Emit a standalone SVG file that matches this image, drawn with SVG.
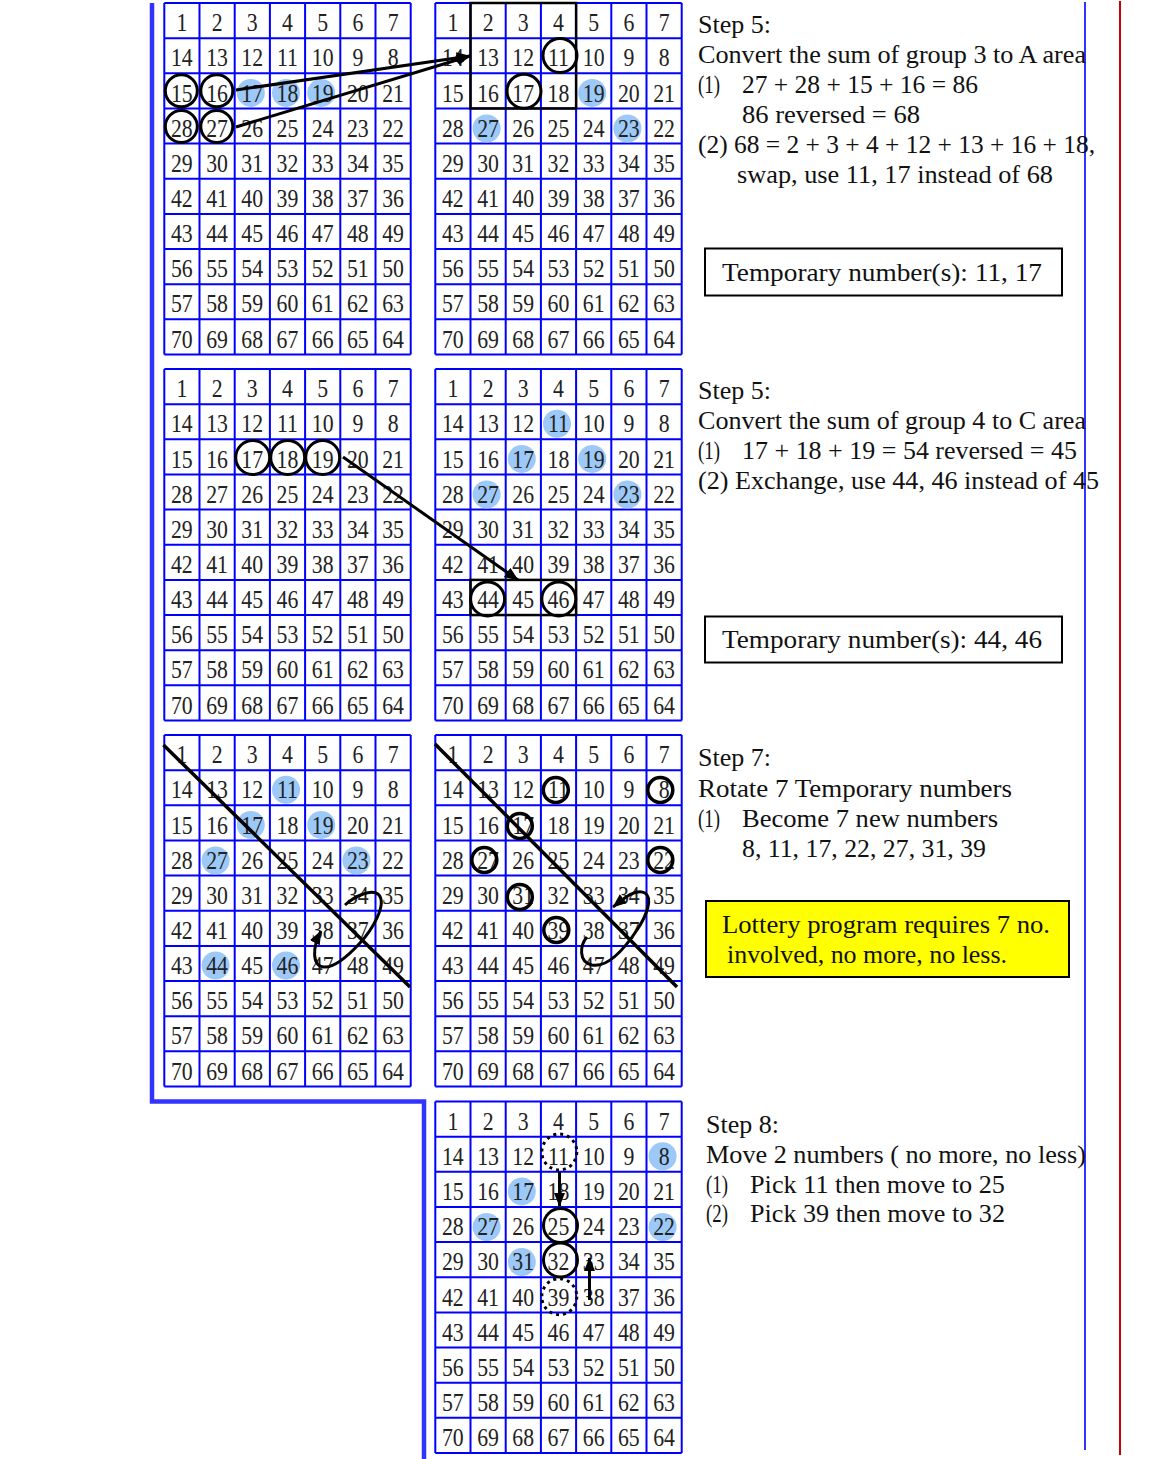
<svg xmlns="http://www.w3.org/2000/svg" xmlns:xlink="http://www.w3.org/1999/xlink" width="1154" height="1459" viewBox="0 0 1154 1459">
<style>
.n{font-family:"Liberation Serif","Times New Roman",serif;font-size:25px;fill:#222;text-anchor:middle}
.t{font-family:"Liberation Serif","Times New Roman",serif;font-size:25.5px;fill:#111}
.hl{fill:#9cc9f8}
.bc{fill:none;stroke:#000;stroke-width:3}
.sc{fill:none;stroke:#000;stroke-width:3.5}
.dc{fill:none;stroke:#000;stroke-width:3;stroke-dasharray:3 4}
.bx{fill:none;stroke:#000;stroke-width:2.5}
.ar{fill:none;stroke:#000;stroke-width:3;marker-end:url(#ah)}
.dg{stroke:#000;stroke-width:3.5}
.box{fill:#fff;stroke:#000;stroke-width:2}
</style>
<defs>
<path id="gl" fill="none" stroke="#0000ff" stroke-width="2" d="M0 0V351.5M35.2 0V351.5M70.4 0V351.5M105.6 0V351.5M140.8 0V351.5M176 0V351.5M211.2 0V351.5M246.4 0V351.5M0 0H246.4M0 35.15H246.4M0 70.3H246.4M0 105.45H246.4M0 140.6H246.4M0 175.75H246.4M0 210.9H246.4M0 246.05H246.4M0 281.2H246.4M0 316.35H246.4M0 351.5H246.4"/>
<marker id="ah" viewBox="0 0 10 10" refX="9.5" refY="5" markerWidth="14" markerHeight="14" markerUnits="userSpaceOnUse" orient="auto"><path d="M0,1 L10,5 L0,9 z" fill="#000"/></marker>
</defs>
<rect width="1154" height="1459" fill="#fff"/>
<polyline points="152,3 152,1101.5 424,1101.5 424,1459" fill="none" stroke="#3333ff" stroke-width="4.5"/>
<line x1="1085" y1="2" x2="1085" y2="1450" stroke="#3333ff" stroke-width="2"/>
<line x1="1120" y1="1" x2="1120" y2="1455" stroke="#cc0000" stroke-width="2"/>

<g id="grid-1-left" transform="translate(164.3 3)">
<use href="#gl"/>
<circle class="hl" cx="86.5" cy="89.9" r="14"/><circle class="hl" cx="121.7" cy="89.9" r="14"/><circle class="hl" cx="156.9" cy="89.9" r="14"/>
<g class="n" transform="scale(0.87 1)">
<text y="28.3"><tspan x="20.2">1</tspan><tspan x="60.7">2</tspan><tspan x="101.1">3</tspan><tspan x="141.6">4</tspan><tspan x="182.1">5</tspan><tspan x="222.5">6</tspan><tspan x="263">7</tspan></text>
<text y="63.45"><tspan x="20.2">14</tspan><tspan x="60.7">13</tspan><tspan x="101.1">12</tspan><tspan x="141.6">11</tspan><tspan x="182.1">10</tspan><tspan x="222.5">9</tspan><tspan x="263">8</tspan></text>
<text y="98.6"><tspan x="20.2">15</tspan><tspan x="60.7">16</tspan><tspan x="101.1">17</tspan><tspan x="141.6">18</tspan><tspan x="182.1">19</tspan><tspan x="222.5">20</tspan><tspan x="263">21</tspan></text>
<text y="133.75"><tspan x="20.2">28</tspan><tspan x="60.7">27</tspan><tspan x="101.1">26</tspan><tspan x="141.6">25</tspan><tspan x="182.1">24</tspan><tspan x="222.5">23</tspan><tspan x="263">22</tspan></text>
<text y="168.9"><tspan x="20.2">29</tspan><tspan x="60.7">30</tspan><tspan x="101.1">31</tspan><tspan x="141.6">32</tspan><tspan x="182.1">33</tspan><tspan x="222.5">34</tspan><tspan x="263">35</tspan></text>
<text y="204.05"><tspan x="20.2">42</tspan><tspan x="60.7">41</tspan><tspan x="101.1">40</tspan><tspan x="141.6">39</tspan><tspan x="182.1">38</tspan><tspan x="222.5">37</tspan><tspan x="263">36</tspan></text>
<text y="239.2"><tspan x="20.2">43</tspan><tspan x="60.7">44</tspan><tspan x="101.1">45</tspan><tspan x="141.6">46</tspan><tspan x="182.1">47</tspan><tspan x="222.5">48</tspan><tspan x="263">49</tspan></text>
<text y="274.35"><tspan x="20.2">56</tspan><tspan x="60.7">55</tspan><tspan x="101.1">54</tspan><tspan x="141.6">53</tspan><tspan x="182.1">52</tspan><tspan x="222.5">51</tspan><tspan x="263">50</tspan></text>
<text y="309.5"><tspan x="20.2">57</tspan><tspan x="60.7">58</tspan><tspan x="101.1">59</tspan><tspan x="141.6">60</tspan><tspan x="182.1">61</tspan><tspan x="222.5">62</tspan><tspan x="263">63</tspan></text>
<text y="344.65"><tspan x="20.2">70</tspan><tspan x="60.7">69</tspan><tspan x="101.1">68</tspan><tspan x="141.6">67</tspan><tspan x="182.1">66</tspan><tspan x="222.5">65</tspan><tspan x="263">64</tspan></text>
</g>
<circle class="bc" cx="17" cy="87.8" r="16"/><circle class="bc" cx="52.5" cy="87.8" r="16"/><circle class="bc" cx="17" cy="123.5" r="16"/><circle class="bc" cx="52.5" cy="123.5" r="16"/>
</g>

<g id="grid-1-right" transform="translate(435.3 3)">
<use href="#gl"/>
<circle class="hl" cx="156.9" cy="89.9" r="14"/><circle class="hl" cx="51.3" cy="125.5" r="14"/><circle class="hl" cx="192.1" cy="125.5" r="14"/>
<g class="n" transform="scale(0.87 1)">
<text y="28.3"><tspan x="20.2">1</tspan><tspan x="60.7">2</tspan><tspan x="101.1">3</tspan><tspan x="141.6">4</tspan><tspan x="182.1">5</tspan><tspan x="222.5">6</tspan><tspan x="263">7</tspan></text>
<text y="63.45"><tspan x="20.2">14</tspan><tspan x="60.7">13</tspan><tspan x="101.1">12</tspan><tspan x="141.6">11</tspan><tspan x="182.1">10</tspan><tspan x="222.5">9</tspan><tspan x="263">8</tspan></text>
<text y="98.6"><tspan x="20.2">15</tspan><tspan x="60.7">16</tspan><tspan x="101.1">17</tspan><tspan x="141.6">18</tspan><tspan x="182.1">19</tspan><tspan x="222.5">20</tspan><tspan x="263">21</tspan></text>
<text y="133.75"><tspan x="20.2">28</tspan><tspan x="60.7">27</tspan><tspan x="101.1">26</tspan><tspan x="141.6">25</tspan><tspan x="182.1">24</tspan><tspan x="222.5">23</tspan><tspan x="263">22</tspan></text>
<text y="168.9"><tspan x="20.2">29</tspan><tspan x="60.7">30</tspan><tspan x="101.1">31</tspan><tspan x="141.6">32</tspan><tspan x="182.1">33</tspan><tspan x="222.5">34</tspan><tspan x="263">35</tspan></text>
<text y="204.05"><tspan x="20.2">42</tspan><tspan x="60.7">41</tspan><tspan x="101.1">40</tspan><tspan x="141.6">39</tspan><tspan x="182.1">38</tspan><tspan x="222.5">37</tspan><tspan x="263">36</tspan></text>
<text y="239.2"><tspan x="20.2">43</tspan><tspan x="60.7">44</tspan><tspan x="101.1">45</tspan><tspan x="141.6">46</tspan><tspan x="182.1">47</tspan><tspan x="222.5">48</tspan><tspan x="263">49</tspan></text>
<text y="274.35"><tspan x="20.2">56</tspan><tspan x="60.7">55</tspan><tspan x="101.1">54</tspan><tspan x="141.6">53</tspan><tspan x="182.1">52</tspan><tspan x="222.5">51</tspan><tspan x="263">50</tspan></text>
<text y="309.5"><tspan x="20.2">57</tspan><tspan x="60.7">58</tspan><tspan x="101.1">59</tspan><tspan x="141.6">60</tspan><tspan x="182.1">61</tspan><tspan x="222.5">62</tspan><tspan x="263">63</tspan></text>
<text y="344.65"><tspan x="20.2">70</tspan><tspan x="60.7">69</tspan><tspan x="101.1">68</tspan><tspan x="141.6">67</tspan><tspan x="182.1">66</tspan><tspan x="222.5">65</tspan><tspan x="263">64</tspan></text>
</g>
<rect class="bx" x="35.2" y="0" width="105.6" height="105.45"/>
<circle class="bc" cx="124.7" cy="52.5" r="17"/><circle class="bc" cx="88.7" cy="88.2" r="17"/>
</g>

<g id="grid-2-left" transform="translate(164.3 369)">
<use href="#gl"/>
<g class="n" transform="scale(0.87 1)">
<text y="28.3"><tspan x="20.2">1</tspan><tspan x="60.7">2</tspan><tspan x="101.1">3</tspan><tspan x="141.6">4</tspan><tspan x="182.1">5</tspan><tspan x="222.5">6</tspan><tspan x="263">7</tspan></text>
<text y="63.45"><tspan x="20.2">14</tspan><tspan x="60.7">13</tspan><tspan x="101.1">12</tspan><tspan x="141.6">11</tspan><tspan x="182.1">10</tspan><tspan x="222.5">9</tspan><tspan x="263">8</tspan></text>
<text y="98.6"><tspan x="20.2">15</tspan><tspan x="60.7">16</tspan><tspan x="101.1">17</tspan><tspan x="141.6">18</tspan><tspan x="182.1">19</tspan><tspan x="222.5">20</tspan><tspan x="263">21</tspan></text>
<text y="133.75"><tspan x="20.2">28</tspan><tspan x="60.7">27</tspan><tspan x="101.1">26</tspan><tspan x="141.6">25</tspan><tspan x="182.1">24</tspan><tspan x="222.5">23</tspan><tspan x="263">22</tspan></text>
<text y="168.9"><tspan x="20.2">29</tspan><tspan x="60.7">30</tspan><tspan x="101.1">31</tspan><tspan x="141.6">32</tspan><tspan x="182.1">33</tspan><tspan x="222.5">34</tspan><tspan x="263">35</tspan></text>
<text y="204.05"><tspan x="20.2">42</tspan><tspan x="60.7">41</tspan><tspan x="101.1">40</tspan><tspan x="141.6">39</tspan><tspan x="182.1">38</tspan><tspan x="222.5">37</tspan><tspan x="263">36</tspan></text>
<text y="239.2"><tspan x="20.2">43</tspan><tspan x="60.7">44</tspan><tspan x="101.1">45</tspan><tspan x="141.6">46</tspan><tspan x="182.1">47</tspan><tspan x="222.5">48</tspan><tspan x="263">49</tspan></text>
<text y="274.35"><tspan x="20.2">56</tspan><tspan x="60.7">55</tspan><tspan x="101.1">54</tspan><tspan x="141.6">53</tspan><tspan x="182.1">52</tspan><tspan x="222.5">51</tspan><tspan x="263">50</tspan></text>
<text y="309.5"><tspan x="20.2">57</tspan><tspan x="60.7">58</tspan><tspan x="101.1">59</tspan><tspan x="141.6">60</tspan><tspan x="182.1">61</tspan><tspan x="222.5">62</tspan><tspan x="263">63</tspan></text>
<text y="344.65"><tspan x="20.2">70</tspan><tspan x="60.7">69</tspan><tspan x="101.1">68</tspan><tspan x="141.6">67</tspan><tspan x="182.1">66</tspan><tspan x="222.5">65</tspan><tspan x="263">64</tspan></text>
</g>
<circle class="bc" cx="88.4" cy="88.5" r="17"/><circle class="bc" cx="123.4" cy="88.5" r="17"/><circle class="bc" cx="158.4" cy="88.5" r="17"/>
</g>

<g id="grid-2-right" transform="translate(435.3 369)">
<use href="#gl"/>
<circle class="hl" cx="121.7" cy="54.75" r="14"/><circle class="hl" cx="86.5" cy="89.9" r="14"/><circle class="hl" cx="156.9" cy="89.9" r="14"/><circle class="hl" cx="51.3" cy="125.5" r="14"/><circle class="hl" cx="192.1" cy="125.5" r="14"/>
<g class="n" transform="scale(0.87 1)">
<text y="28.3"><tspan x="20.2">1</tspan><tspan x="60.7">2</tspan><tspan x="101.1">3</tspan><tspan x="141.6">4</tspan><tspan x="182.1">5</tspan><tspan x="222.5">6</tspan><tspan x="263">7</tspan></text>
<text y="63.45"><tspan x="20.2">14</tspan><tspan x="60.7">13</tspan><tspan x="101.1">12</tspan><tspan x="141.6">11</tspan><tspan x="182.1">10</tspan><tspan x="222.5">9</tspan><tspan x="263">8</tspan></text>
<text y="98.6"><tspan x="20.2">15</tspan><tspan x="60.7">16</tspan><tspan x="101.1">17</tspan><tspan x="141.6">18</tspan><tspan x="182.1">19</tspan><tspan x="222.5">20</tspan><tspan x="263">21</tspan></text>
<text y="133.75"><tspan x="20.2">28</tspan><tspan x="60.7">27</tspan><tspan x="101.1">26</tspan><tspan x="141.6">25</tspan><tspan x="182.1">24</tspan><tspan x="222.5">23</tspan><tspan x="263">22</tspan></text>
<text y="168.9"><tspan x="20.2">29</tspan><tspan x="60.7">30</tspan><tspan x="101.1">31</tspan><tspan x="141.6">32</tspan><tspan x="182.1">33</tspan><tspan x="222.5">34</tspan><tspan x="263">35</tspan></text>
<text y="204.05"><tspan x="20.2">42</tspan><tspan x="60.7">41</tspan><tspan x="101.1">40</tspan><tspan x="141.6">39</tspan><tspan x="182.1">38</tspan><tspan x="222.5">37</tspan><tspan x="263">36</tspan></text>
<text y="239.2"><tspan x="20.2">43</tspan><tspan x="60.7">44</tspan><tspan x="101.1">45</tspan><tspan x="141.6">46</tspan><tspan x="182.1">47</tspan><tspan x="222.5">48</tspan><tspan x="263">49</tspan></text>
<text y="274.35"><tspan x="20.2">56</tspan><tspan x="60.7">55</tspan><tspan x="101.1">54</tspan><tspan x="141.6">53</tspan><tspan x="182.1">52</tspan><tspan x="222.5">51</tspan><tspan x="263">50</tspan></text>
<text y="309.5"><tspan x="20.2">57</tspan><tspan x="60.7">58</tspan><tspan x="101.1">59</tspan><tspan x="141.6">60</tspan><tspan x="182.1">61</tspan><tspan x="222.5">62</tspan><tspan x="263">63</tspan></text>
<text y="344.65"><tspan x="20.2">70</tspan><tspan x="60.7">69</tspan><tspan x="101.1">68</tspan><tspan x="141.6">67</tspan><tspan x="182.1">66</tspan><tspan x="222.5">65</tspan><tspan x="263">64</tspan></text>
</g>
<rect class="bx" x="35.2" y="210.9" width="105.6" height="35.15"/>
<circle class="bc" cx="52.3" cy="230" r="17"/><circle class="bc" cx="123.5" cy="230" r="17"/>
</g>

<g id="grid-3-left" transform="translate(164.3 735)">
<use href="#gl"/>
<circle class="hl" cx="121.7" cy="54.75" r="14"/><circle class="hl" cx="86.5" cy="89.9" r="14"/><circle class="hl" cx="156.9" cy="89.9" r="14"/><circle class="hl" cx="51.3" cy="125.5" r="14"/><circle class="hl" cx="192.1" cy="125.5" r="14"/><circle class="hl" cx="51.3" cy="230.5" r="14"/><circle class="hl" cx="121.7" cy="230.5" r="14"/>
<g class="n" transform="scale(0.87 1)">
<text y="28.3"><tspan x="20.2">1</tspan><tspan x="60.7">2</tspan><tspan x="101.1">3</tspan><tspan x="141.6">4</tspan><tspan x="182.1">5</tspan><tspan x="222.5">6</tspan><tspan x="263">7</tspan></text>
<text y="63.45"><tspan x="20.2">14</tspan><tspan x="60.7">13</tspan><tspan x="101.1">12</tspan><tspan x="141.6">11</tspan><tspan x="182.1">10</tspan><tspan x="222.5">9</tspan><tspan x="263">8</tspan></text>
<text y="98.6"><tspan x="20.2">15</tspan><tspan x="60.7">16</tspan><tspan x="101.1">17</tspan><tspan x="141.6">18</tspan><tspan x="182.1">19</tspan><tspan x="222.5">20</tspan><tspan x="263">21</tspan></text>
<text y="133.75"><tspan x="20.2">28</tspan><tspan x="60.7">27</tspan><tspan x="101.1">26</tspan><tspan x="141.6">25</tspan><tspan x="182.1">24</tspan><tspan x="222.5">23</tspan><tspan x="263">22</tspan></text>
<text y="168.9"><tspan x="20.2">29</tspan><tspan x="60.7">30</tspan><tspan x="101.1">31</tspan><tspan x="141.6">32</tspan><tspan x="182.1">33</tspan><tspan x="222.5">34</tspan><tspan x="263">35</tspan></text>
<text y="204.05"><tspan x="20.2">42</tspan><tspan x="60.7">41</tspan><tspan x="101.1">40</tspan><tspan x="141.6">39</tspan><tspan x="182.1">38</tspan><tspan x="222.5">37</tspan><tspan x="263">36</tspan></text>
<text y="239.2"><tspan x="20.2">43</tspan><tspan x="60.7">44</tspan><tspan x="101.1">45</tspan><tspan x="141.6">46</tspan><tspan x="182.1">47</tspan><tspan x="222.5">48</tspan><tspan x="263">49</tspan></text>
<text y="274.35"><tspan x="20.2">56</tspan><tspan x="60.7">55</tspan><tspan x="101.1">54</tspan><tspan x="141.6">53</tspan><tspan x="182.1">52</tspan><tspan x="222.5">51</tspan><tspan x="263">50</tspan></text>
<text y="309.5"><tspan x="20.2">57</tspan><tspan x="60.7">58</tspan><tspan x="101.1">59</tspan><tspan x="141.6">60</tspan><tspan x="182.1">61</tspan><tspan x="222.5">62</tspan><tspan x="263">63</tspan></text>
<text y="344.65"><tspan x="20.2">70</tspan><tspan x="60.7">69</tspan><tspan x="101.1">68</tspan><tspan x="141.6">67</tspan><tspan x="182.1">66</tspan><tspan x="222.5">65</tspan><tspan x="263">64</tspan></text>
</g>
</g>

<g id="grid-3-right" transform="translate(435.3 735)">
<use href="#gl"/>
<g class="n" transform="scale(0.87 1)">
<text y="28.3"><tspan x="20.2">1</tspan><tspan x="60.7">2</tspan><tspan x="101.1">3</tspan><tspan x="141.6">4</tspan><tspan x="182.1">5</tspan><tspan x="222.5">6</tspan><tspan x="263">7</tspan></text>
<text y="63.45"><tspan x="20.2">14</tspan><tspan x="60.7">13</tspan><tspan x="101.1">12</tspan><tspan x="141.6">11</tspan><tspan x="182.1">10</tspan><tspan x="222.5">9</tspan><tspan x="263">8</tspan></text>
<text y="98.6"><tspan x="20.2">15</tspan><tspan x="60.7">16</tspan><tspan x="101.1">17</tspan><tspan x="141.6">18</tspan><tspan x="182.1">19</tspan><tspan x="222.5">20</tspan><tspan x="263">21</tspan></text>
<text y="133.75"><tspan x="20.2">28</tspan><tspan x="60.7">27</tspan><tspan x="101.1">26</tspan><tspan x="141.6">25</tspan><tspan x="182.1">24</tspan><tspan x="222.5">23</tspan><tspan x="263">22</tspan></text>
<text y="168.9"><tspan x="20.2">29</tspan><tspan x="60.7">30</tspan><tspan x="101.1">31</tspan><tspan x="141.6">32</tspan><tspan x="182.1">33</tspan><tspan x="222.5">34</tspan><tspan x="263">35</tspan></text>
<text y="204.05"><tspan x="20.2">42</tspan><tspan x="60.7">41</tspan><tspan x="101.1">40</tspan><tspan x="141.6">39</tspan><tspan x="182.1">38</tspan><tspan x="222.5">37</tspan><tspan x="263">36</tspan></text>
<text y="239.2"><tspan x="20.2">43</tspan><tspan x="60.7">44</tspan><tspan x="101.1">45</tspan><tspan x="141.6">46</tspan><tspan x="182.1">47</tspan><tspan x="222.5">48</tspan><tspan x="263">49</tspan></text>
<text y="274.35"><tspan x="20.2">56</tspan><tspan x="60.7">55</tspan><tspan x="101.1">54</tspan><tspan x="141.6">53</tspan><tspan x="182.1">52</tspan><tspan x="222.5">51</tspan><tspan x="263">50</tspan></text>
<text y="309.5"><tspan x="20.2">57</tspan><tspan x="60.7">58</tspan><tspan x="101.1">59</tspan><tspan x="141.6">60</tspan><tspan x="182.1">61</tspan><tspan x="222.5">62</tspan><tspan x="263">63</tspan></text>
<text y="344.65"><tspan x="20.2">70</tspan><tspan x="60.7">69</tspan><tspan x="101.1">68</tspan><tspan x="141.6">67</tspan><tspan x="182.1">66</tspan><tspan x="222.5">65</tspan><tspan x="263">64</tspan></text>
</g>
<circle class="sc" cx="120.5" cy="55" r="12.5"/><circle class="sc" cx="225" cy="55" r="12.5"/><circle class="sc" cx="84.5" cy="91" r="12.5"/><circle class="sc" cx="49" cy="125" r="12.5"/><circle class="sc" cx="225" cy="125" r="12.5"/><circle class="sc" cx="84.5" cy="162" r="12.5"/><circle class="sc" cx="121" cy="195" r="12.5"/>
</g>

<g id="grid-4-right" transform="translate(435.3 1101.5)">
<use href="#gl"/>
<circle class="hl" cx="227.3" cy="54.75" r="14"/><circle class="hl" cx="86.5" cy="89.9" r="14"/><circle class="hl" cx="51.3" cy="125.5" r="14"/><circle class="hl" cx="227.3" cy="125.5" r="14"/><circle class="hl" cx="86.5" cy="160.5" r="14"/>
<g class="n" transform="scale(0.87 1)">
<text y="28.3"><tspan x="20.2">1</tspan><tspan x="60.7">2</tspan><tspan x="101.1">3</tspan><tspan x="141.6">4</tspan><tspan x="182.1">5</tspan><tspan x="222.5">6</tspan><tspan x="263">7</tspan></text>
<text y="63.45"><tspan x="20.2">14</tspan><tspan x="60.7">13</tspan><tspan x="101.1">12</tspan><tspan x="141.6">11</tspan><tspan x="182.1">10</tspan><tspan x="222.5">9</tspan><tspan x="263">8</tspan></text>
<text y="98.6"><tspan x="20.2">15</tspan><tspan x="60.7">16</tspan><tspan x="101.1">17</tspan><tspan x="141.6">18</tspan><tspan x="182.1">19</tspan><tspan x="222.5">20</tspan><tspan x="263">21</tspan></text>
<text y="133.75"><tspan x="20.2">28</tspan><tspan x="60.7">27</tspan><tspan x="101.1">26</tspan><tspan x="141.6">25</tspan><tspan x="182.1">24</tspan><tspan x="222.5">23</tspan><tspan x="263">22</tspan></text>
<text y="168.9"><tspan x="20.2">29</tspan><tspan x="60.7">30</tspan><tspan x="101.1">31</tspan><tspan x="141.6">32</tspan><tspan x="182.1">33</tspan><tspan x="222.5">34</tspan><tspan x="263">35</tspan></text>
<text y="204.05"><tspan x="20.2">42</tspan><tspan x="60.7">41</tspan><tspan x="101.1">40</tspan><tspan x="141.6">39</tspan><tspan x="182.1">38</tspan><tspan x="222.5">37</tspan><tspan x="263">36</tspan></text>
<text y="239.2"><tspan x="20.2">43</tspan><tspan x="60.7">44</tspan><tspan x="101.1">45</tspan><tspan x="141.6">46</tspan><tspan x="182.1">47</tspan><tspan x="222.5">48</tspan><tspan x="263">49</tspan></text>
<text y="274.35"><tspan x="20.2">56</tspan><tspan x="60.7">55</tspan><tspan x="101.1">54</tspan><tspan x="141.6">53</tspan><tspan x="182.1">52</tspan><tspan x="222.5">51</tspan><tspan x="263">50</tspan></text>
<text y="309.5"><tspan x="20.2">57</tspan><tspan x="60.7">58</tspan><tspan x="101.1">59</tspan><tspan x="141.6">60</tspan><tspan x="182.1">61</tspan><tspan x="222.5">62</tspan><tspan x="263">63</tspan></text>
<text y="344.65"><tspan x="20.2">70</tspan><tspan x="60.7">69</tspan><tspan x="101.1">68</tspan><tspan x="141.6">67</tspan><tspan x="182.1">66</tspan><tspan x="222.5">65</tspan><tspan x="263">64</tspan></text>
</g>
<circle class="bc" cx="125.2" cy="124" r="17"/><circle class="bc" cx="125.2" cy="158.5" r="17"/>
<ellipse class="dc" cx="124" cy="50.5" rx="17.5" ry="18"/><ellipse class="dc" cx="124" cy="195.2" rx="17.5" ry="18"/>
</g>

<g id="connectors">
<line class="ar" x1="236" y1="90" x2="470" y2="56"/>
<line class="ar" x1="236" y1="127" x2="470" y2="56"/>
<line class="ar" stroke-width="2.5" x1="343" y1="457" x2="518" y2="580"/>
<line class="dg" x1="163.5" y1="745" x2="410" y2="987"/>
<line class="dg" x1="435" y1="744" x2="677" y2="987"/>
<path class="ar" d="M345,905 C355,896 372,888 379,895 C387,905 372,930 360,943 C348,956 335,968 324,967 C312,966 312,948 321,931"/>
<path class="ar" d="M587,937 C580,945 578,962 592,965 C608,968 625,948 637,930 C647,915 653,898 645,893 C636,888 624,898 613,907"/>
<line class="ar" x1="559.5" y1="1172" x2="559.5" y2="1206"/>
<line class="ar" x1="589.5" y1="1300" x2="589.5" y2="1258"/>
</g>

<g id="step5-a" class="t">
<text x="698" y="33" textLength="73" lengthAdjust="spacingAndGlyphs">Step 5:</text>
<text x="698" y="63" textLength="388" lengthAdjust="spacingAndGlyphs">Convert the sum of group 3 to A area</text>
<text x="698" y="93" textLength="22" lengthAdjust="spacingAndGlyphs">(1)</text>
<text x="742" y="93" textLength="236" lengthAdjust="spacingAndGlyphs">27 + 28 + 15 + 16 = 86</text>
<text x="742" y="123" textLength="178" lengthAdjust="spacingAndGlyphs">86 reversed = 68</text>
<text x="698" y="153" textLength="397" lengthAdjust="spacingAndGlyphs">(2) 68 = 2 + 3 + 4 + 12 + 13 + 16 + 18,</text>
<text x="737" y="183" textLength="316" lengthAdjust="spacingAndGlyphs">swap, use 11, 17 instead of 68</text>
</g>
<g id="temp-box-1">
<rect class="box" x="705" y="248.5" width="357" height="47"/>
<text class="t" x="722" y="281" textLength="320" lengthAdjust="spacingAndGlyphs">Temporary number(s):  11, 17</text>
</g>

<g id="step5-b" class="t">
<text x="698" y="399" textLength="73" lengthAdjust="spacingAndGlyphs">Step 5:</text>
<text x="698" y="429" textLength="388" lengthAdjust="spacingAndGlyphs">Convert the sum of group 4 to C area</text>
<text x="698" y="459" textLength="22" lengthAdjust="spacingAndGlyphs">(1)</text>
<text x="742" y="459" textLength="335" lengthAdjust="spacingAndGlyphs">17 + 18 + 19 = 54 reversed = 45</text>
<text x="698" y="489" textLength="401" lengthAdjust="spacingAndGlyphs">(2) Exchange, use 44, 46 instead of 45</text>
</g>
<g id="temp-box-2">
<rect class="box" x="705" y="616.5" width="357" height="46"/>
<text class="t" x="722" y="648" textLength="320" lengthAdjust="spacingAndGlyphs">Temporary number(s):  44, 46</text>
</g>

<g id="step7" class="t">
<text x="698" y="766" textLength="73" lengthAdjust="spacingAndGlyphs">Step 7:</text>
<text x="698" y="797" textLength="314" lengthAdjust="spacingAndGlyphs">Rotate 7 Temporary numbers</text>
<text x="698" y="827" textLength="22" lengthAdjust="spacingAndGlyphs">(1)</text>
<text x="742" y="827" textLength="256" lengthAdjust="spacingAndGlyphs">Become 7 new numbers</text>
<text x="742" y="857" textLength="244" lengthAdjust="spacingAndGlyphs">8, 11, 17, 22, 27, 31, 39</text>
</g>
<g id="lottery-note">
<rect x="706" y="901" width="363" height="76" fill="#ffff00" stroke="#000" stroke-width="2"/>
<text class="t" x="722" y="933" textLength="328" lengthAdjust="spacingAndGlyphs">Lottery program requires 7 no.</text>
<text class="t" x="727" y="963" textLength="280" lengthAdjust="spacingAndGlyphs">involved, no more, no less.</text>
</g>

<g id="step8" class="t">
<text x="706" y="1133" textLength="73" lengthAdjust="spacingAndGlyphs">Step 8:</text>
<text x="706" y="1163" textLength="380" lengthAdjust="spacingAndGlyphs">Move 2 numbers ( no more, no less)</text>
<text x="706" y="1193" textLength="22" lengthAdjust="spacingAndGlyphs">(1)</text>
<text x="750" y="1193" textLength="255" lengthAdjust="spacingAndGlyphs">Pick 11 then move to 25</text>
<text x="706" y="1222" textLength="22" lengthAdjust="spacingAndGlyphs">(2)</text>
<text x="750" y="1222" textLength="255" lengthAdjust="spacingAndGlyphs">Pick 39 then move to 32</text>
</g>
</svg>
